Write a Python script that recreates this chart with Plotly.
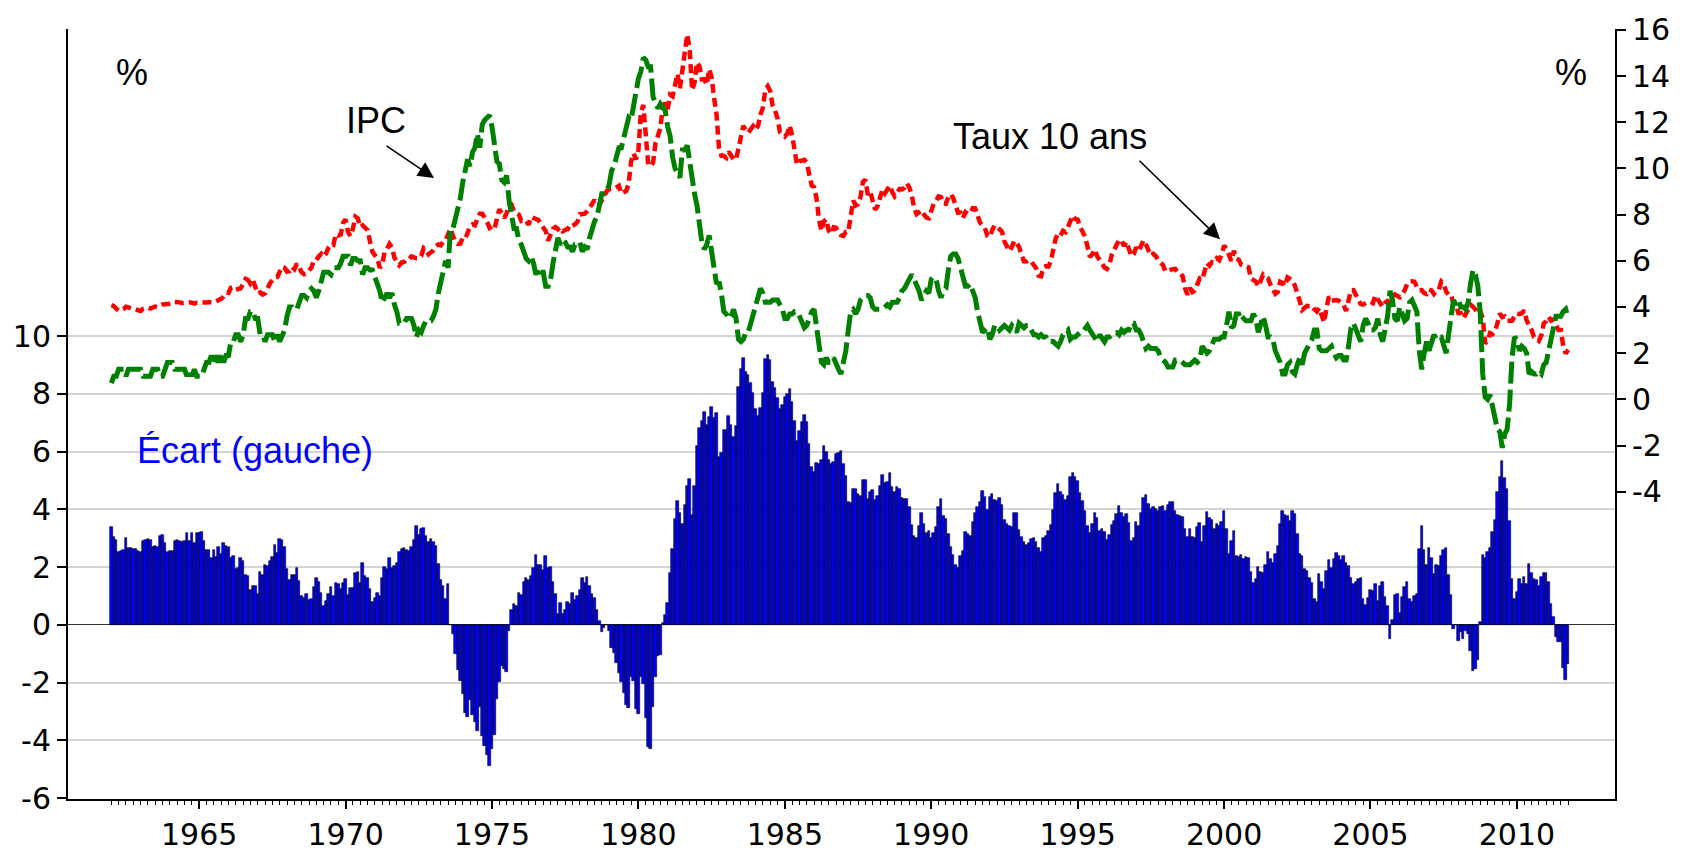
import plotly.graph_objects as go

# ---------------- data (monthly, Jan 1962 -> Oct 2011) ----------------
start_year = 1962

taux_10_ans = [
    4.08, 4.04, 3.93, 3.84, 3.87, 3.91, 4.01, 3.98, 3.98, 3.93, 3.92, 3.86,
    3.83, 3.92, 3.93, 3.97, 3.93, 3.99, 4.02, 4.00, 4.08, 4.11, 4.12, 4.13,
    4.17, 4.15, 4.22, 4.23, 4.20, 4.17, 4.19, 4.19, 4.20, 4.19, 4.15, 4.18,
    4.19, 4.21, 4.21, 4.20, 4.21, 4.21, 4.20, 4.25, 4.29, 4.35, 4.45, 4.62,
    4.61, 4.83, 4.87, 4.75, 4.78, 4.81, 5.02, 5.22, 5.18, 5.01, 5.16, 4.84,
    4.58, 4.63, 4.54, 4.59, 4.85, 5.02, 5.16, 5.28, 5.30, 5.48, 5.75, 5.70,
    5.53, 5.56, 5.74, 5.64, 5.87, 5.72, 5.50, 5.42, 5.46, 5.58, 5.70, 6.03,
    6.04, 6.19, 6.30, 6.17, 6.32, 6.57, 6.72, 6.69, 7.16, 7.10, 7.14, 7.65,
    7.79, 7.24, 7.07, 7.39, 7.91, 7.84, 7.46, 7.53, 7.39, 7.33, 6.84, 6.39,
    6.24, 6.11, 5.70, 5.83, 6.39, 6.52, 6.73, 6.58, 6.14, 5.93, 5.81, 5.93,
    5.95, 6.08, 6.07, 6.19, 6.13, 6.11, 6.11, 6.21, 6.55, 6.48, 6.28, 6.36,
    6.46, 6.64, 6.71, 6.67, 6.85, 6.90, 7.13, 7.40, 7.09, 6.79, 6.73, 6.74,
    6.99, 6.96, 7.21, 7.51, 7.58, 7.54, 7.81, 8.04, 8.04, 7.90, 7.68, 7.43,
    7.50, 7.39, 7.73, 8.23, 8.06, 7.86, 8.06, 8.40, 8.43, 8.14, 8.05, 8.00,
    7.74, 7.79, 7.73, 7.56, 7.90, 7.86, 7.83, 7.77, 7.59, 7.41, 7.29, 6.87,
    7.21, 7.39, 7.46, 7.37, 7.46, 7.28, 7.33, 7.40, 7.34, 7.52, 7.58, 7.69,
    8.01, 8.03, 8.04, 8.15, 8.35, 8.46, 8.64, 8.41, 8.42, 8.64, 8.81, 9.01,
    9.10, 9.10, 9.12, 9.18, 9.25, 8.91, 8.95, 9.03, 9.33, 10.30, 10.65, 10.39,
    10.80, 12.41, 12.75, 11.47, 10.18, 10.10, 10.25, 11.10, 11.51, 11.75, 12.68, 12.84,
    12.57, 13.19, 13.12, 13.68, 14.10, 13.47, 14.28, 14.94, 15.80, 15.15, 13.39, 13.72,
    14.59, 14.43, 13.86, 13.87, 13.62, 14.30, 13.95, 13.06, 12.34, 10.91, 10.55, 10.54,
    10.46, 10.72, 10.51, 10.40, 10.38, 10.85, 11.38, 11.85, 11.65, 11.54, 11.69, 11.83,
    11.67, 11.84, 12.32, 12.63, 13.41, 13.56, 13.36, 12.72, 12.52, 12.16, 11.57, 11.50,
    11.38, 11.51, 11.86, 11.43, 10.85, 10.16, 10.31, 10.33, 10.37, 10.24, 9.78, 9.26,
    9.19, 8.70, 7.78, 7.30, 7.71, 7.80, 7.30, 7.17, 7.45, 7.43, 7.25, 7.11,
    7.08, 7.25, 7.25, 8.02, 8.61, 8.40, 8.45, 8.76, 9.42, 9.52, 8.86, 8.99,
    8.67, 8.21, 8.37, 8.72, 9.09, 8.92, 9.06, 9.26, 8.98, 8.80, 8.96, 9.11,
    9.09, 9.17, 9.36, 9.18, 8.86, 8.28, 8.02, 8.11, 8.19, 8.01, 7.87, 7.84,
    8.21, 8.47, 8.59, 8.79, 8.76, 8.48, 8.47, 8.75, 8.89, 8.72, 8.39, 8.08,
    8.09, 7.85, 8.11, 8.04, 8.07, 8.28, 8.27, 7.90, 7.65, 7.53, 7.42, 7.09,
    7.03, 7.34, 7.54, 7.48, 7.39, 7.26, 6.84, 6.59, 6.42, 6.59, 6.87, 6.77,
    6.60, 6.26, 5.98, 5.97, 6.04, 5.96, 5.81, 5.68, 5.36, 5.33, 5.72, 5.77,
    5.75, 5.97, 6.48, 6.97, 7.18, 7.10, 7.30, 7.24, 7.46, 7.74, 7.96, 7.81,
    7.78, 7.47, 7.20, 7.06, 6.63, 6.17, 6.28, 6.49, 6.20, 6.04, 5.93, 5.71,
    5.65, 5.81, 6.27, 6.51, 6.74, 6.91, 6.87, 6.64, 6.83, 6.53, 6.20, 6.30,
    6.58, 6.42, 6.69, 6.89, 6.71, 6.49, 6.22, 6.30, 6.21, 6.03, 5.88, 5.81,
    5.54, 5.57, 5.65, 5.64, 5.65, 5.50, 5.46, 5.34, 4.81, 4.53, 4.83, 4.65,
    4.72, 5.00, 5.23, 5.18, 5.54, 5.90, 5.79, 5.94, 5.92, 6.11, 6.03, 6.28,
    6.66, 6.52, 6.26, 5.99, 6.44, 6.10, 6.05, 5.83, 5.80, 5.74, 5.72, 5.24,
    5.16, 5.10, 4.89, 5.14, 5.39, 5.28, 5.24, 4.97, 4.73, 4.57, 4.65, 5.09,
    5.04, 4.91, 5.28, 5.21, 5.16, 4.93, 4.65, 4.26, 3.87, 3.94, 4.05, 4.03,
    4.05, 3.90, 3.81, 3.96, 3.57, 3.33, 3.98, 4.45, 4.27, 4.29, 4.30, 4.27,
    4.15, 4.08, 3.83, 4.35, 4.72, 4.73, 4.50, 4.28, 4.13, 4.10, 4.19, 4.23,
    4.22, 4.17, 4.50, 4.34, 4.14, 4.00, 4.18, 4.26, 4.20, 4.46, 4.54, 4.47,
    4.42, 4.57, 4.72, 4.99, 5.11, 5.11, 5.09, 4.88, 4.72, 4.73, 4.60, 4.56,
    4.76, 4.72, 4.56, 4.69, 4.75, 5.10, 5.00, 4.67, 4.52, 4.53, 4.15, 4.10,
    3.74, 3.74, 3.51, 3.68, 3.88, 4.10, 4.01, 3.89, 3.69, 3.81, 3.53, 2.42,
    2.52, 2.87, 2.82, 2.93, 3.29, 3.72, 3.56, 3.59, 3.40, 3.39, 3.40, 3.59,
    3.73, 3.69, 3.73, 3.85, 3.42, 3.20, 3.01, 2.70, 2.65, 2.54, 2.76, 3.29,
    3.39, 3.58, 3.41, 3.46, 3.17, 3.00, 3.00, 2.30, 1.98, 2.15,
]

ipc = [
    0.7, 1.0, 1.0, 1.3, 1.3, 1.3, 1.0, 1.3, 1.3, 1.3, 1.3, 1.3,
    1.3, 1.0, 1.0, 1.0, 1.0, 1.3, 1.3, 1.3, 1.0, 1.0, 1.3, 1.6,
    1.6, 1.6, 1.3, 1.3, 1.3, 1.3, 1.3, 1.0, 1.3, 1.0, 1.3, 1.0,
    1.0, 1.0, 1.3, 1.6, 1.6, 1.9, 1.6, 1.9, 1.6, 1.9, 1.6, 1.9,
    1.9, 2.5, 2.5, 2.8, 2.8, 2.5, 2.8, 3.5, 3.5, 3.8, 3.8, 3.5,
    3.5, 2.8, 2.8, 2.5, 2.8, 2.8, 2.8, 2.5, 2.8, 2.5, 2.8, 3.0,
    3.6, 4.0, 4.0, 3.9, 3.9, 4.2, 4.5, 4.5, 4.4, 4.7, 4.8, 4.7,
    4.4, 4.7, 5.2, 5.5, 5.5, 5.5, 5.4, 5.7, 5.7, 5.7, 5.9, 6.2,
    6.2, 6.2, 5.8, 6.1, 6.1, 6.0, 6.0, 5.4, 5.7, 5.7, 5.6, 5.6,
    5.3, 5.0, 4.7, 4.2, 4.4, 4.6, 4.4, 4.6, 4.1, 3.8, 3.3, 3.3,
    3.3, 3.5, 3.5, 3.5, 3.2, 2.7, 3.0, 2.9, 3.2, 3.4, 3.4, 3.4,
    3.6, 3.9, 4.6, 5.1, 5.5, 6.0, 5.7, 7.4, 7.4, 7.8, 8.3, 8.7,
    9.4, 10.0, 10.4, 10.1, 10.7, 10.9, 11.5, 10.9, 11.9, 12.1, 12.2, 12.3,
    11.8, 11.2, 10.3, 10.2, 9.5, 9.4, 9.7, 8.6, 7.9, 7.4, 7.4, 6.9,
    6.7, 6.3, 6.1, 6.0, 6.2, 5.9, 5.4, 5.7, 5.5, 5.5, 4.9, 4.9,
    5.2, 5.9, 6.4, 7.0, 6.7, 6.9, 6.8, 6.6, 6.6, 6.4, 6.7, 6.7,
    6.8, 6.4, 6.6, 6.5, 7.0, 7.4, 7.7, 7.9, 8.3, 8.9, 8.9, 9.0,
    9.3, 9.9, 10.1, 10.5, 10.9, 10.9, 11.3, 11.8, 12.2, 12.1, 12.6, 13.3,
    13.9, 14.2, 14.8, 14.7, 14.4, 14.4, 13.1, 12.9, 12.6, 12.8, 12.6, 12.5,
    11.8, 11.4, 10.5, 10.0, 9.8, 9.6, 10.8, 10.8, 11.0, 10.1, 9.6, 8.9,
    8.4, 7.6, 6.8, 6.5, 6.7, 7.1, 6.4, 5.9, 5.0, 5.1, 4.6, 3.8,
    3.7, 3.5, 3.6, 3.9, 3.5, 2.6, 2.5, 2.6, 2.9, 2.9, 3.3, 3.8,
    4.2, 4.6, 4.8, 4.6, 4.2, 4.2, 4.2, 4.3, 4.3, 4.3, 4.1, 3.9,
    3.5, 3.5, 3.7, 3.7, 3.8, 3.8, 3.6, 3.3, 3.1, 3.2, 3.5, 3.8,
    3.9, 3.1, 2.2, 1.6, 1.5, 1.8, 1.6, 1.6, 1.8, 1.5, 1.3, 1.1,
    1.5, 2.1, 3.0, 3.8, 3.9, 3.7, 3.9, 4.3, 4.4, 4.5, 4.5, 4.4,
    4.0, 3.9, 3.9, 3.9, 3.9, 4.0, 4.1, 4.0, 4.2, 4.2, 4.2, 4.4,
    4.7, 4.8, 5.0, 5.1, 5.4, 5.2, 5.0, 4.7, 4.3, 4.5, 4.7, 4.6,
    5.2, 5.3, 5.2, 4.7, 4.4, 4.7, 4.8, 5.6, 6.2, 6.3, 6.3, 6.1,
    5.7, 5.3, 4.9, 4.9, 5.0, 4.7, 4.4, 3.8, 3.4, 2.9, 3.0, 3.1,
    2.6, 2.8, 3.2, 3.2, 3.0, 3.1, 3.2, 3.1, 3.0, 3.2, 3.0, 2.9,
    3.3, 3.2, 3.1, 3.2, 3.2, 3.0, 2.8, 2.8, 2.7, 2.8, 2.7, 2.7,
    2.5, 2.5, 2.5, 2.4, 2.3, 2.5, 2.8, 2.9, 3.0, 2.6, 2.7, 2.7,
    2.8, 2.9, 2.9, 3.1, 3.2, 3.0, 2.8, 2.6, 2.5, 2.8, 2.6, 2.5,
    2.7, 2.7, 2.8, 2.9, 2.9, 2.8, 3.0, 2.9, 3.0, 3.0, 3.3, 3.3,
    3.0, 3.0, 2.8, 2.5, 2.2, 2.3, 2.2, 2.2, 2.2, 2.1, 1.8, 1.7,
    1.6, 1.4, 1.4, 1.4, 1.7, 1.7, 1.7, 1.6, 1.5, 1.5, 1.5, 1.6,
    1.7, 1.6, 1.7, 2.3, 2.1, 2.0, 2.1, 2.3, 2.6, 2.6, 2.6, 2.7,
    2.7, 3.2, 3.8, 3.1, 3.2, 3.7, 3.7, 3.4, 3.5, 3.4, 3.4, 3.4,
    3.7, 3.5, 2.9, 3.3, 3.6, 3.2, 2.7, 2.7, 2.6, 2.1, 1.9, 1.6,
    1.1, 1.1, 1.5, 1.6, 1.2, 1.1, 1.5, 1.8, 1.5, 2.0, 2.2, 2.4,
    2.6, 3.0, 3.0, 2.2, 2.1, 2.1, 2.1, 2.2, 2.3, 2.0, 1.8, 1.9,
    1.9, 1.7, 1.7, 2.3, 3.1, 3.3, 3.0, 2.7, 2.5, 3.2, 3.5, 3.3,
    3.0, 3.0, 3.1, 3.5, 2.8, 2.5, 3.2, 3.6, 4.7, 4.3, 3.5, 3.4,
    4.0, 3.6, 3.4, 3.5, 4.2, 4.3, 4.1, 3.8, 2.1, 1.3, 2.0, 2.5,
    2.1, 2.4, 2.8, 2.6, 2.7, 2.7, 2.4, 2.0, 2.8, 3.5, 4.3, 4.1,
    4.3, 4.0, 4.0, 3.9, 4.2, 5.0, 5.6, 5.4, 4.9, 3.7, 1.1, 0.1,
    0.0, 0.2, -0.4, -0.7, -1.3, -1.4, -2.1, -1.5, -1.3, -0.2, 1.8, 2.7,
    2.6, 2.1, 2.3, 2.2, 2.0, 1.1, 1.2, 1.1, 1.1, 1.2, 1.1, 1.5,
    1.6, 2.1, 2.7, 3.2, 3.6, 3.6, 3.6, 3.8, 3.9, 3.5,
]

ecart = [
    3.38, 3.04, 2.93, 2.54, 2.57, 2.61, 3.01, 2.68, 2.68, 2.63, 2.62, 2.56,
    2.53, 2.92, 2.93, 2.97, 2.93, 2.69, 2.72, 2.70, 3.08, 3.11, 2.82, 2.53,
    2.57, 2.55, 2.92, 2.93, 2.90, 2.87, 2.89, 3.19, 2.90, 3.19, 2.85, 3.18,
    3.19, 3.21, 2.91, 2.60, 2.61, 2.31, 2.60, 2.35, 2.69, 2.45, 2.85, 2.72,
    2.71, 2.33, 2.37, 1.95, 1.98, 2.31, 2.22, 1.72, 1.68, 1.21, 1.36, 1.34,
    1.08, 1.83, 1.74, 2.09, 2.05, 2.22, 2.36, 2.78, 2.50, 2.98, 2.95, 2.70,
    1.93, 1.56, 1.74, 1.74, 1.97, 1.52, 1.00, 0.92, 1.06, 0.88, 0.90, 1.33,
    1.64, 1.49, 1.10, 0.67, 0.82, 1.07, 1.32, 0.99, 1.46, 1.40, 1.24, 1.45,
    1.59, 1.04, 1.27, 1.29, 1.81, 1.84, 1.46, 2.13, 1.69, 1.63, 1.24, 0.79,
    0.94, 1.11, 1.00, 1.63, 1.99, 1.92, 2.33, 1.98, 2.04, 2.13, 2.51, 2.63,
    2.65, 2.58, 2.57, 2.69, 2.93, 3.41, 3.11, 3.31, 3.35, 3.08, 2.88, 2.96,
    2.86, 2.74, 2.11, 1.57, 1.35, 0.90, 1.43, 0.00, -0.31, -1.01, -1.57, -1.96,
    -2.41, -3.04, -3.19, -2.59, -3.12, -3.36, -3.69, -2.86, -3.86, -4.20, -4.52, -4.87,
    -4.30, -3.81, -2.57, -1.97, -1.44, -1.54, -1.64, -0.20, 0.53, 0.74, 0.65, 1.10,
    1.04, 1.49, 1.63, 1.56, 1.70, 1.96, 2.43, 2.07, 2.09, 1.91, 2.39, 1.97,
    2.01, 1.49, 1.06, 0.37, 0.76, 0.38, 0.53, 0.80, 0.74, 1.12, 0.88, 0.99,
    1.21, 1.63, 1.44, 1.65, 1.35, 1.06, 0.94, 0.51, 0.12, -0.26, -0.09, 0.01,
    -0.20, -0.80, -0.98, -1.32, -1.65, -1.99, -2.35, -2.77, -2.87, -1.80, -1.95, -2.91,
    -3.10, -1.79, -2.05, -3.23, -4.22, -4.30, -2.85, -1.80, -1.09, -1.05, 0.08, 0.34,
    0.77, 1.79, 2.62, 3.68, 4.30, 3.87, 3.48, 4.14, 4.80, 5.05, 3.79, 4.82,
    6.19, 6.83, 7.06, 7.37, 6.92, 7.20, 7.55, 7.16, 7.34, 5.81, 5.95, 6.74,
    6.76, 7.22, 6.91, 6.50, 6.88, 8.25, 8.88, 9.25, 8.75, 8.64, 8.39, 8.03,
    7.47, 7.24, 7.52, 8.03, 9.21, 9.36, 9.16, 8.42, 8.22, 7.86, 7.47, 7.60,
    7.88, 8.01, 8.16, 7.73, 7.05, 6.36, 6.71, 7.03, 7.27, 7.04, 6.28, 5.46,
    5.29, 5.60, 5.58, 5.70, 6.21, 6.00, 5.70, 5.57, 5.65, 5.93, 5.95, 6.01,
    5.58, 5.15, 4.25, 4.22, 4.71, 4.70, 4.55, 4.46, 5.02, 5.02, 4.36, 4.59,
    4.67, 4.31, 4.47, 4.82, 5.19, 4.92, 4.96, 5.26, 4.78, 4.60, 4.76, 4.71,
    4.39, 4.37, 4.36, 4.08, 3.46, 3.08, 3.02, 3.41, 3.89, 3.51, 3.17, 3.24,
    3.01, 3.17, 3.39, 4.09, 4.36, 3.78, 3.67, 3.15, 2.69, 2.42, 2.09, 1.98,
    2.39, 2.55, 3.21, 3.14, 3.07, 3.58, 3.87, 4.10, 4.25, 4.63, 4.42, 3.99,
    4.43, 4.54, 4.34, 4.28, 4.39, 4.16, 3.64, 3.49, 3.42, 3.39, 3.87, 3.87,
    3.30, 3.06, 2.88, 2.77, 2.84, 2.96, 3.01, 2.88, 2.66, 2.53, 3.02, 3.07,
    3.25, 3.47, 3.98, 4.57, 4.88, 4.60, 4.50, 4.34, 4.46, 5.14, 5.26, 5.11,
    4.98, 4.57, 4.30, 3.96, 3.43, 3.17, 3.48, 3.89, 3.70, 3.24, 3.33, 3.21,
    2.95, 3.11, 3.47, 3.61, 3.84, 4.11, 3.87, 3.74, 3.83, 3.53, 2.90, 3.00,
    3.58, 3.42, 3.89, 4.39, 4.51, 4.19, 4.02, 4.10, 4.01, 3.93, 4.08, 4.11,
    3.94, 4.17, 4.25, 4.24, 3.95, 3.80, 3.76, 3.74, 3.31, 3.03, 3.33, 3.05,
    3.02, 3.40, 3.53, 2.88, 3.44, 3.90, 3.69, 3.64, 3.32, 3.51, 3.43, 3.58,
    3.96, 3.32, 2.46, 2.89, 3.24, 2.40, 2.35, 2.43, 2.30, 2.34, 2.32, 1.84,
    1.46, 1.60, 1.99, 1.84, 1.79, 2.08, 2.54, 2.27, 2.13, 2.47, 2.75, 3.49,
    3.94, 3.81, 3.78, 3.61, 3.96, 3.83, 3.15, 2.46, 2.37, 1.94, 1.85, 1.63,
    1.45, 0.90, 0.81, 1.76, 1.47, 1.23, 1.88, 2.25, 1.97, 2.29, 2.50, 2.37,
    2.25, 2.38, 2.13, 2.05, 1.62, 1.43, 1.50, 1.58, 1.63, 0.90, 0.69, 0.93,
    1.22, 1.17, 1.40, 0.84, 1.34, 1.50, 0.98, 0.66, -0.50, 0.16, 1.04, 1.07,
    0.42, 0.97, 1.32, 1.49, 0.91, 0.81, 0.99, 1.08, 2.62, 3.43, 2.60, 2.06,
    2.66, 2.32, 1.76, 2.09, 2.05, 2.40, 2.60, 2.67, 1.72, 1.03, -0.15, 0.00,
    -0.56, -0.26, -0.49, -0.22, -0.32, -0.90, -1.59, -1.51, -1.21, 0.11, 2.43, 2.32,
    2.52, 2.67, 3.22, 3.63, 4.59, 5.12, 5.66, 5.09, 4.70, 3.59, 1.60, 0.89,
    1.13, 1.59, 1.43, 1.65, 1.42, 2.10, 1.81, 1.60, 1.55, 1.34, 1.66, 1.79,
    1.79, 1.48, 0.71, 0.26, -0.43, -0.60, -0.60, -1.50, -1.92, -1.35,
]

year_ticks = list(range(1962, 2012))
year_labels = [str(y) if y % 5 == 0 else "" for y in year_ticks]
quarter_ticks = [y + q / 4 for y in range(1962, 2012) for q in range(4)]
left_ticks = [-6, -4, -2, 0, 2, 4, 6, 8, 10]
left_labels = ["-6", "-4", "-2", "0", "2", "4", "6", "8", "10"]
right_ticks = [-4, -2, 0, 2, 4, 6, 8, 10, 12, 14, 16]
right_labels = ["-4", "-2", "0", "2", "4", "6", "8", "10", "12", "14", "16"]

dates = [start_year + i / 12 for i in range(len(ecart))]

# ---------------- figure ----------------
W, H = 1684, 864
L, R, T, B = 68, 1615, 23, 814
PW, PH = R - L, B - T


def px(x):
    return (x - L) / PW


def py(y):
    return (B - y) / PH


fig = go.Figure()
fig.add_trace(go.Bar(
    x=dates, y=ecart, width=1 / 12, yaxis="y",
    marker=dict(color="#0000FF", line=dict(color="black", width=0.6)),
    name="Écart",
))
fig.add_trace(go.Scatter(
    x=dates, y=taux_10_ans, mode="lines", yaxis="y2",
    line=dict(color="#FF0000", width=4.5, dash="9px,5px"),
    name="Taux 10 ans",
))
fig.add_trace(go.Scatter(
    x=dates, y=ipc, mode="lines", yaxis="y2",
    line=dict(color="#008000", width=5, dash="22px,6px"),
    name="IPC",
))

tick_font = dict(family="DejaVu Sans, Arial, sans-serif", size=30, color="black")
label_font = "Liberation Sans, Arial, sans-serif"

fig.update_layout(
    width=W, height=H,
    margin=dict(l=L, r=W - R, t=T, b=H - B, pad=0),
    plot_bgcolor="white", paper_bgcolor="white",
    showlegend=False, bargap=0,
    xaxis=dict(
        range=[1960.52, 2013.35],
        tickmode="array", tickvals=year_ticks, ticktext=year_labels,
        ticks="outside", ticklen=8, tickwidth=1.5, tickcolor="black",
        showline=True, linecolor="black", linewidth=2,
        showgrid=False, zeroline=False,
        tickfont=tick_font,
        minor=dict(tickmode="array", tickvals=quarter_ticks, ticks="outside",
                   ticklen=4, tickwidth=1, tickcolor="black", showgrid=False),
    ),
    yaxis=dict(
        range=[-6.03, 20.64],
        tickmode="array", tickvals=left_ticks, ticktext=left_labels,
        ticks="outside", ticklen=9, tickwidth=1.5, tickcolor="black",
        showline=True, linecolor="black", linewidth=2,
        showgrid=True, gridcolor="#D4D4D4", gridwidth=1.5,
        zeroline=True, zerolinecolor="#333333", zerolinewidth=1.2,
        tickfont=tick_font,
    ),
    yaxis2=dict(
        range=[-17.31, 16.04], overlaying="y", side="right",
        tickmode="array", tickvals=right_ticks, ticktext=right_labels,
        ticks="outside", ticklen=9, tickwidth=1.5, tickcolor="black",
        showline=True, linecolor="black", linewidth=2,
        showgrid=False, zeroline=False,
        tickfont=tick_font,
    ),
)

annots = [
    dict(text="%", x=px(132), y=py(68), font=dict(size=36, family=label_font, color="black")),
    dict(text="%", x=px(1571), y=py(68), font=dict(size=36, family=label_font, color="black")),
    dict(text="IPC", x=px(376), y=py(117), font=dict(size=36, family=label_font, color="black")),
    dict(text="Taux 10 ans", x=px(1050), y=py(133), font=dict(size=36, family=label_font, color="black")),
    dict(text="Écart (gauche)", x=px(255), y=py(456), font=dict(size=36, family=label_font, color="#0000FF")),
]
for a in annots:
    fig.add_annotation(xref="paper", yref="paper", showarrow=False,
                       xanchor="center", yanchor="middle", **a)

# arrows
fig.add_annotation(xref="paper", yref="paper", x=px(434), y=py(176), ax=-49, ay=-33,
                   text="", showarrow=True, arrowhead=2, arrowsize=2,
                   arrowwidth=1.6, arrowcolor="black")
fig.add_annotation(xref="paper", yref="paper", x=px(1220), y=py(239), ax=-82, ay=-80,
                   text="", showarrow=True, arrowhead=2, arrowsize=2,
                   arrowwidth=1.6, arrowcolor="black")

fig.write_html("out.html", config={"displayModeBar": False},
               post_script="document.body.style.margin='0';")
